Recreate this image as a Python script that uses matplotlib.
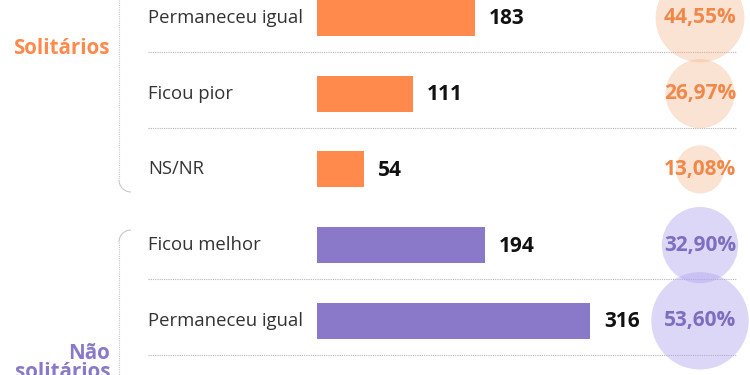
import numpy as np
import matplotlib
matplotlib.use("Agg")
import matplotlib.pyplot as plt
from matplotlib.patches import Circle, Arc

# visible rows of the chart (top and bottom are cut off in the source)
labels = ["Permaneceu igual", "Ficou pior", "NS/NR", "Ficou melhor", "Permaneceu igual"]
counts = [183, 111, 54, 194, 316]
percents = [44.55, 26.97, 13.08, 32.90, 53.60]
groups = ["Solitários", "Solitários", "Solitários", "Não solitários", "Não solitários"]
group_names = ["Solitários", "Não\nsolitários"]

ORANGE = "#ff8a4c"
PURPLE = "#8a78c8"
bar_colors = {"Solitários": ORANGE, "Não solitários": PURPLE}
pct_colors = {"Solitários": "#f0884a", "Não solitários": "#7e6dc0"}
circle_colors = {"Solitários": ("#f5a876", 0.32), "Não solitários": ("#b3a7ef", 0.45)}

plt.rcParams["font.family"] = ["Open Sans", "DejaVu Sans"]

fig = plt.figure(figsize=(7.5, 3.75), dpi=100)
ax = fig.add_axes([0, 0, 1, 1])
ax.set_xlim(0, 750)
ax.set_ylim(375, 0)
ax.axis("off")

row_y = 18 + 75.7 * np.arange(len(labels))
bar_x0 = 317
px_per_unit = 0.864
circle_x = 700
radius_k = 6.65

ax.barh(row_y, np.array(counts) * px_per_unit, left=bar_x0, height=36,
        color=[bar_colors[g] for g in groups], zorder=2)

for i, (lab, c, p, g) in enumerate(zip(labels, counts, percents, groups)):
    y = row_y[i]
    ax.text(148, y, lab, ha="left", va="center", fontsize=13.3, color="#333333")
    ax.text(bar_x0 + c * px_per_unit + 14, y + 1, str(c), ha="left", va="center",
            fontsize=15, fontweight="bold", color="#111111")
    fc, a = circle_colors[g]
    ax.add_patch(Circle((circle_x, y), radius_k * np.sqrt(p), facecolor=fc,
                        alpha=a, edgecolor="none", zorder=1))
    ax.text(736, y, f"{p:.2f}%".replace(".", ","), ha="right", va="center",
            fontsize=15, fontweight="bold", color=pct_colors[g], zorder=3)
    # dotted separator, not after the last row of a group
    if i + 1 < len(labels) and groups[i + 1] == g or i == len(labels) - 1:
        ax.plot([148, 736], [y + 34, y + 34], color="#b5b5b5", lw=0.8,
                ls=(0, (1, 1)), zorder=0)

# group brackets with rounded corners
br = "#c8c8c8"
ax.plot([119, 119], [0, 180], color=br, lw=0.8, ls=(0, (1, 1)))
ax.add_patch(Arc((131, 180), 24, 24, theta1=90, theta2=180, color=br, lw=0.8))
ax.plot([119, 119], [242, 375], color=br, lw=0.8, ls=(0, (1, 1)))
ax.add_patch(Arc((131, 242), 24, 24, theta1=180, theta2=270, color=br, lw=0.8))

ax.text(110, 48, group_names[0], ha="right", va="center", fontsize=14.8,
        fontweight="bold", color=ORANGE)
ax.text(110, 363, group_names[1], ha="right", va="center", fontsize=14.8,
        fontweight="bold", color=PURPLE, linespacing=0.85)

fig.savefig("out.png", dpi=100)
